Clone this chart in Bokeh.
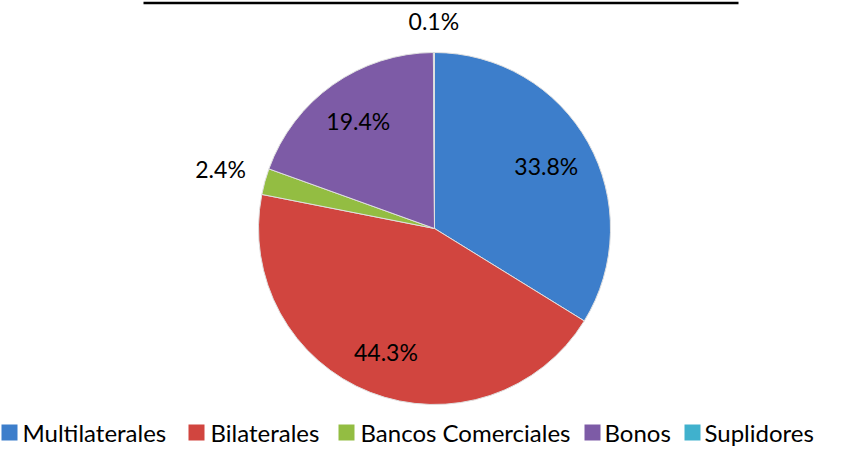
import math
from bokeh.plotting import figure
from bokeh.models import Range1d, ColumnDataSource
from bokeh.core.properties import value
from bokeh.embed import file_html
from bokeh.resources import INLINE

categories = ["Multilaterales", "Bilaterales", "Bancos Comerciales", "Bonos", "Suplidores"]
shares = [33.8, 44.3, 2.4, 19.4, 0.1]
labels = ["33.8%", "44.3%", "2.4%", "19.4%", "0.1%"]
colors = ["#3d7ecb", "#d1453f", "#93bd42", "#7d5ba6", "#40b1cd"]

W, H = 831, 450
p = figure(width=W, height=H, output_backend="svg", toolbar_location=None,
           x_range=Range1d(0, W), y_range=Range1d(0, H), min_border=0)
p.axis.visible = False
p.grid.visible = False
p.outline_line_color = None
p.background_fill_color = "white"

def sy(y): return H - y

cx, cy, R = 434, sy(228), 176
total = sum(shares)
starts, ends, mids = [], [], []
a = math.pi / 2
for s in shares:
    e = a - s / total * 2 * math.pi
    starts.append(a); ends.append(e); mids.append((a + e) / 2)
    a = e

src = ColumnDataSource(dict(start=starts, end=ends, color=colors, cat=categories))
p.wedge(x=cx, y=cy, radius=R, start_angle="start", end_angle="end",
        direction="clock", fill_color="color", line_color="#e0e0e0", line_width=1,
        source=src)

label_r = [128, 133, 222, 132, 208]
lx = [cx + r * math.cos(m) for r, m in zip(label_r, mids)]
ly = [cy + r * math.sin(m) for r, m in zip(label_r, mids)]
p.text(x=lx, y=ly, text=labels, text_align="center", text_baseline="middle",
       text_font=value("Lato"), text_font_size="23px", text_color="black")

# title underline (title itself is cropped above the view)
p.line(x=[143, 738], y=[sy(2.5), sy(2.5)], line_color="black", line_width=2.5)

# legend
leg_sq_x = [1, 188, 338, 584, 684]
leg_tx_x = [22, 210, 360, 604, 704]
ly0 = sy(432)
p.rect(x=[v + 8 for v in leg_sq_x], y=[ly0] * 5, width=16, height=16,
       fill_color=colors, line_color=None)
p.text(x=leg_tx_x, y=[ly0] * 5, text=categories,
       text_align="left", text_baseline="middle",
       text_font=value("Lato"), text_font_size="24px", text_color="black")

open("out.html", "w").write(file_html(p, INLINE))
